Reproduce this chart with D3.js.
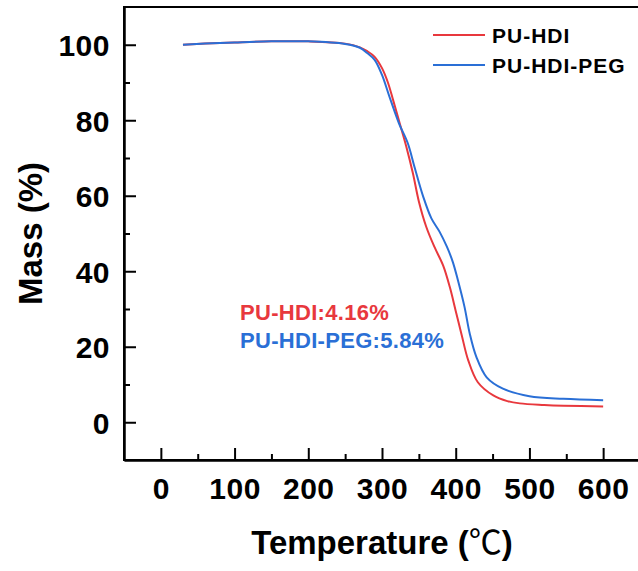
<!DOCTYPE html>
<meta charset="utf-8">
<head>
<style>
body { margin: 0; background: #fff; }
svg { display: block; }
.axis text { font: bold 30px "Liberation Sans", Arial, sans-serif; letter-spacing: 0.5px; fill: #000; }
.axis line, .axis path { stroke: #000; stroke-width: 2; }
.title { font: bold 33px "Liberation Sans", Arial, sans-serif; fill: #000; }
.legend text { font: bold 21px "Liberation Sans", Arial, sans-serif; letter-spacing: 1px; fill: #000; }
.note { font: bold 22px "Liberation Sans", Arial, sans-serif; letter-spacing: 0.3px; }
</style>
</head>
<body>
<script src="https://cdn.jsdelivr.net/npm/d3@7"></script>
<script>

// TGA curves
var hdiTemp = [30, 60, 100, 150, 200, 250, 270, 280, 290, 300, 308, 315, 324, 333, 342, 350, 360, 371, 383, 392, 400, 408, 417, 430, 451, 470, 487, 520, 546, 600];
var hdiMass = [100, 100.3, 100.6, 100.9, 100.9, 100.3, 99.3, 98.3, 96.8, 93.8, 90, 85.4, 79.2, 73, 65.9, 58.5, 51.8, 46.5, 41.5, 35.8, 29.5, 23.2, 16.4, 10.6, 7.1, 5.6, 5.0, 4.6, 4.4, 4.16];

var pegTemp = [30, 60, 100, 150, 200, 250, 270, 280, 290, 300, 310, 323, 335, 344, 356, 367, 378, 388, 396, 403, 412, 419, 428, 442, 464, 500, 546, 600];
var pegMass = [100, 100.3, 100.6, 100.9, 100.9, 100.2, 99.2, 97.8, 96, 92, 86.3, 79.2, 73.9, 67.7, 59.7, 54, 50.5, 46.5, 42.5, 37.6, 30.5, 23.5, 17.3, 11.9, 8.9, 6.9, 6.2, 5.84];

var seriesNames = ["PU-HDI", "PU-HDI-PEG"];
var seriesColors = ["#e8383d", "#2a6fd6"];
var notes = ["PU-HDI:4.16%", "PU-HDI-PEG:5.84%"];

var xTicks = [0, 100, 200, 300, 400, 500, 600];
var xMinor = [50, 150, 250, 350, 450, 550];
var yTicks = [0, 20, 40, 60, 80, 100];
var yMinor = [10, 30, 50, 70, 90];

var margin = {top: 7, left: 124},
    width = 516,
    height = 453;

var svg = d3.select("body").append("svg")
    .attr("width", 638)
    .attr("height", 571);

var g = svg.append("g")
    .attr("transform", "translate(" + margin.left + "," + margin.top + ")");

var x = d3.scaleLinear().domain([-50, 650]).range([0, width]);
var y = d3.scaleLinear().domain([-10, 110]).range([height, 0]);

// box
g.append("rect")
    .attr("width", width).attr("height", height)
    .attr("fill", "none").attr("stroke", "#000").attr("stroke-width", 2);

// minor ticks
g.append("g").attr("class", "axis")
    .attr("transform", "translate(0," + height + ")")
    .call(d3.axisBottom(x).tickValues(xMinor).tickSize(-6).tickSizeOuter(0).tickFormat(""));
g.append("g").attr("class", "axis")
    .call(d3.axisLeft(y).tickValues(yMinor).tickSize(-6).tickSizeOuter(0).tickFormat(""));

// major ticks
var xAxis = g.append("g").attr("class", "axis")
    .attr("transform", "translate(0," + height + ")")
    .call(d3.axisBottom(x).tickValues(xTicks).tickSize(-12).tickSizeOuter(0));
xAxis.selectAll("text").attr("y", 39).attr("dy", null);

var yAxis = g.append("g").attr("class", "axis")
    .call(d3.axisLeft(y).tickValues(yTicks).tickSize(-12).tickSizeOuter(0).tickPadding(14));
yAxis.selectAll("text").attr("dy", "0.36em");

// curves
var line = d3.line()
    .x(function(d) { return x(d[0]); })
    .y(function(d) { return y(d[1]); })
    .curve(d3.curveCatmullRom.alpha(0.5));

var curves = [
    d3.zip(hdiTemp, hdiMass),
    d3.zip(pegTemp, pegMass)
];

g.selectAll(".curve")
    .data(curves)
    .enter().append("path")
    .attr("class", "curve")
    .attr("d", line)
    .attr("fill", "none")
    .attr("stroke", function(d, i) { return seriesColors[i]; })
    .attr("stroke-width", 2);

// legend
var legend = svg.append("g").attr("class", "legend");
seriesNames.forEach(function(name, i) {
    legend.append("line")
        .attr("x1", 433).attr("x2", 485)
        .attr("y1", 35 + i * 30).attr("y2", 35 + i * 30)
        .attr("stroke", seriesColors[i]).attr("stroke-width", 2);
    legend.append("text")
        .attr("x", 492).attr("y", 43 + i * 30)
        .text(name);
});

// residue notes
notes.forEach(function(t, i) {
    svg.append("text")
        .attr("class", "note")
        .attr("x", 240).attr("y", 320 + i * 28)
        .attr("fill", seriesColors[i])
        .text(t);
});

// titles
var xt = svg.append("text")
    .attr("class", "title")
    .attr("x", margin.left + width / 2).attr("y", 554)
    .attr("text-anchor", "middle");
xt.append("tspan").text("Temperature (");
xt.append("tspan").attr("font-family", "Noto Sans CJK SC").attr("font-weight", "normal").text("℃");
xt.append("tspan").text(")");

svg.append("text")
    .attr("class", "title")
    .attr("transform", "translate(42," + (margin.top + height / 2) + ") rotate(-90)")
    .attr("text-anchor", "middle")
    .text("Mass (%)");

</script>
</body>
